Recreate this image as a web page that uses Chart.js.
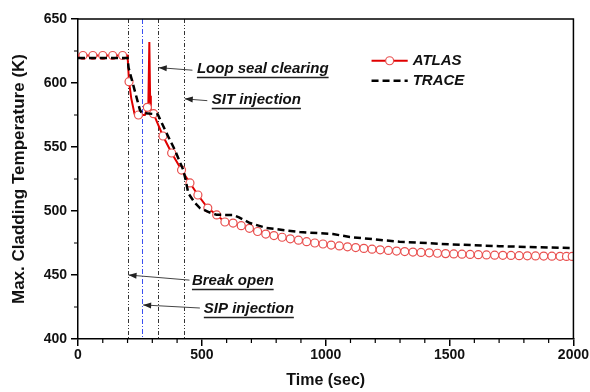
<!DOCTYPE html>
<html><head><meta charset="utf-8">
<script src="https://cdn.jsdelivr.net/npm/chart.js@4/dist/chart.umd.min.js"></script>
<style>html,body{margin:0;padding:0;background:#fff}#wrap{width:590px;height:392px}</style>
</head><body><div id="wrap"><canvas id="c" width="590" height="392"></canvas></div>
<script>
// ---- data ----
const xTickValues = [0, 500, 1000, 1500, 2000];
const yTickValues = [400, 450, 500, 550, 600, 650];

const atlasTime = [0,20,60,100,140,180,200,206,215,228,244,270,280,284,288,291,294,305,320,343,378,418,452,484,524,560,593,626,
  659,692,725,758,791,824,857,890,923,956,989,1022,1055,1088,1121,1154,1187,1220,1253,1286,1319,1352,1385,1418,1451,1484,1517,1550,1583,1616,1649,1682,1715,1748,1781,1814,1847,1880,1913,1946,1972,1995];
const atlasTemp = [621.5,621.5,621.5,621.5,621.5,621.5,621.5,601,588,576,575,575,581,584,632,590,578,576,569,558.6,545.3,532,521.9,512.5,502.3,496.9,491.4,490.6,
  488.5,486.5,484,482,480.8,479.5,478.3,477.2,476,475,474.2,473.4,472.7,472,471.4,470.8,470.2,469.7,469.2,468.7,468.3,467.9,467.6,467.3,467,466.7,466.5,466.3,466.1,465.9,465.7,465.5,465.4,465.3,465.1,465,464.9,464.8,464.7,464.6,464.5,464.5];
const atlasMarker = [0,1,1,1,1,1,0,1,0,0,1,0,1,0,0,0,0,1,0,1,1,1,1,1,1,1,1,1,
  1,1,1,1,1,1,1,1,1,1,1,1,1,1,1,1,1,1,1,1,1,1,1,1,1,1,1,1,1,1,1,1,1,1,1,1,1,1,1,1,1,1];

const traceTime = [0,200,204,218,250,258,322,357,391,425,435,445,472,492,530,560,626,650,694,761,895,1029,1097,1298,1500,1700,2000];
const traceTemp = [619.5,619.5,612,602,579,576.6,575.5,561,547.7,532,524,514,506.3,502.3,499,497,496.9,495,490.6,486.7,483.6,482,479.7,476,474,472.5,471];

const eventTimes = [200, 258, 322, 427];
const eventLabels = ["Break open", "SIP injection", "Loop seal clearing", "SIT injection"];
const seriesNames = ["ATLAS", "TRACE"];

// ---- chart ----
const FONT = "'Liberation Sans', Arial, sans-serif";
const toXY = (xs, ys) => xs.map((t, i) => ({x: t, y: ys[i]}));

// annotation placements (data coords): text anchor and arrow tail/tip
const annots = [
  {label: eventLabels[2], tx: 480, ty: 611, ax0: 462, ay0: 610, ax1: 326, ay1: 612},
  {label: eventLabels[3], tx: 540, ty: 586.7, ax0: 522, ay0: 586.2, ax1: 431, ay1: 587.6},
  {label: eventLabels[0], tx: 460, ty: 445.3, ax0: 450, ay0: 446, ax1: 204, ay1: 450},
  {label: eventLabels[1], tx: 508, ty: 423.4, ax0: 492, ay0: 424.2, ax1: 263, ay1: 426.6}
];

const deco = {
  id: 'deco',
  beforeDatasetsDraw(chart) {
    const {ctx, chartArea: a, scales: {x}} = chart;
    ctx.save();
    eventTimes.forEach((t, i) => {
      const px = Math.round(x.getPixelForValue(t)) + 0.5;
      ctx.strokeStyle = i === 1 ? '#3b4ff0' : '#333';
      ctx.lineWidth = 1;
      ctx.setLineDash(i === 1 ? [5, 2, 1, 2] : [4, 2, 1, 2, 1, 2]);
      ctx.beginPath(); ctx.moveTo(px, a.top); ctx.lineTo(px, a.bottom); ctx.stroke();
    });
    ctx.restore();
  },
  afterDraw(chart) {
    const {ctx, chartArea: a, scales: {x, y}} = chart;
    ctx.save();
    // frame top & right
    ctx.strokeStyle = '#000'; ctx.lineWidth = 1.5; ctx.setLineDash([]);
    ctx.beginPath();
    ctx.moveTo(a.left, a.top); ctx.lineTo(a.right, a.top); ctx.lineTo(a.right, a.bottom);
    ctx.stroke();
    // minor ticks
    ctx.lineWidth = 1.2;
    ctx.beginPath();
    for (let v = 100; v < 2000; v += 100) {
      if (v % 500 === 0) continue;
      const px = x.getPixelForValue(v);
      ctx.moveTo(px, a.bottom); ctx.lineTo(px, a.bottom + 4);
    }
    for (let v = 425; v < 650; v += 25) {
      if (v % 50 === 0) continue;
      const py = y.getPixelForValue(v);
      ctx.moveTo(a.left, py); ctx.lineTo(a.left - 4, py);
    }
    ctx.stroke();
    // annotations
    ctx.font = `italic bold 15px ${FONT}`;
    ctx.textBaseline = 'middle';
    ctx.textAlign = 'left';
    annots.forEach(an => {
      const tx = x.getPixelForValue(an.tx), ty = y.getPixelForValue(an.ty);
      ctx.fillStyle = '#111';
      ctx.fillText(an.label, tx, ty);
      const w = ctx.measureText(an.label).width;
      ctx.strokeStyle = '#222'; ctx.lineWidth = 1.5;
      ctx.beginPath(); ctx.moveTo(tx, ty + 8.5); ctx.lineTo(tx + w, ty + 8.5); ctx.stroke();
      // arrow
      const x0 = x.getPixelForValue(an.ax0), y0 = y.getPixelForValue(an.ay0);
      const x1 = x.getPixelForValue(an.ax1), y1 = y.getPixelForValue(an.ay1);
      ctx.strokeStyle = '#444'; ctx.lineWidth = 1;
      ctx.beginPath(); ctx.moveTo(x0, y0); ctx.lineTo(x1, y1); ctx.stroke();
      const ang = Math.atan2(y1 - y0, x1 - x0);
      ctx.fillStyle = '#222';
      ctx.beginPath();
      ctx.moveTo(x1, y1);
      ctx.lineTo(x1 - 8 * Math.cos(ang) + 3 * Math.sin(ang), y1 - 8 * Math.sin(ang) - 3 * Math.cos(ang));
      ctx.lineTo(x1 - 8 * Math.cos(ang) - 3 * Math.sin(ang), y1 - 8 * Math.sin(ang) + 3 * Math.cos(ang));
      ctx.closePath(); ctx.fill();
    });
    // legend
    const lx0 = x.getPixelForValue(1185), lx1 = x.getPixelForValue(1331);
    const ly1 = y.getPixelForValue(617.4), ly2 = y.getPixelForValue(601.8);
    const ltx = x.getPixelForValue(1351);
    ctx.strokeStyle = '#e00000'; ctx.lineWidth = 2;
    ctx.beginPath(); ctx.moveTo(lx0, ly1); ctx.lineTo(lx1, ly1); ctx.stroke();
    ctx.fillStyle = '#fff'; ctx.strokeStyle = '#e9504f'; ctx.lineWidth = 1.2;
    ctx.beginPath(); ctx.arc((lx0 + lx1) / 2, ly1, 4, 0, Math.PI * 2); ctx.fill(); ctx.stroke();
    ctx.strokeStyle = '#000'; ctx.lineWidth = 2.5; ctx.setLineDash([7, 4]);
    ctx.beginPath(); ctx.moveTo(lx0, ly2); ctx.lineTo(lx1, ly2); ctx.stroke();
    ctx.setLineDash([]);
    ctx.fillStyle = '#111';
    ctx.fillText(seriesNames[0], ltx, ly1);
    ctx.fillText(seriesNames[1], ltx, ly2);
    ctx.restore();
  }
};

new Chart(document.getElementById('c'), {
  type: 'line',
  data: {
    datasets: [
      {
        label: seriesNames[0],
        data: toXY(atlasTime, atlasTemp),
        borderColor: '#e00000',
        borderWidth: 2,
        pointRadius: c => atlasMarker[c.dataIndex] ? 4 : 0,
        pointBorderColor: '#e9504f',
        pointBackgroundColor: '#ffffff',
        pointBorderWidth: 1.2,
        tension: 0,
        order: 1
      },
      {
        label: seriesNames[1],
        data: toXY(traceTime, traceTemp),
        borderColor: '#000',
        borderWidth: 2.5,
        borderDash: [7, 4],
        pointRadius: 0,
        tension: 0,
        order: 0
      }
    ]
  },
  options: {
    responsive: false,
    animation: false,
    events: [],
    layout: {padding: {top: 19, right: 16, left: 0, bottom: 0}},
    plugins: {legend: {display: false}, tooltip: {enabled: false}},
    scales: {
      x: {
        type: 'linear', min: 0, max: 2000,
        afterFit: s => { s.height = 53; },
        afterBuildTicks: s => { s.ticks = xTickValues.map(v => ({value: v})); },
        ticks: {font: {family: FONT, size: 14, weight: 'bold'}, color: '#111', padding: 1, maxRotation: 0, autoSkip: false,
                callback: v => String(v)},
        grid: {drawOnChartArea: false, drawTicks: true, tickLength: 7, color: '#000', lineWidth: 1.5},
        border: {display: true, color: '#000', width: 1.5},
        title: {display: true, text: 'Time (sec)', font: {family: FONT, size: 16, weight: 'bold'}, color: '#111', padding: {top: 0, bottom: 2}}
      },
      y: {
        type: 'linear', min: 400, max: 650,
        afterFit: s => { s.width = 78; },
        afterBuildTicks: s => { s.ticks = yTickValues.map(v => ({value: v})); },
        ticks: {font: {family: FONT, size: 14, weight: 'bold'}, color: '#111', padding: 4, callback: v => String(v)},
        grid: {drawOnChartArea: false, drawTicks: true, tickLength: 7, color: '#000', lineWidth: 1.5},
        border: {display: true, color: '#000', width: 1.5},
        title: {display: true, text: 'Max. Cladding Temperature (K)', font: {family: FONT, size: 17, weight: 'bold'}, color: '#111', padding: {top: 9, bottom: 0}}
      }
    }
  },
  plugins: [deco]
});
</script>
</body></html>
